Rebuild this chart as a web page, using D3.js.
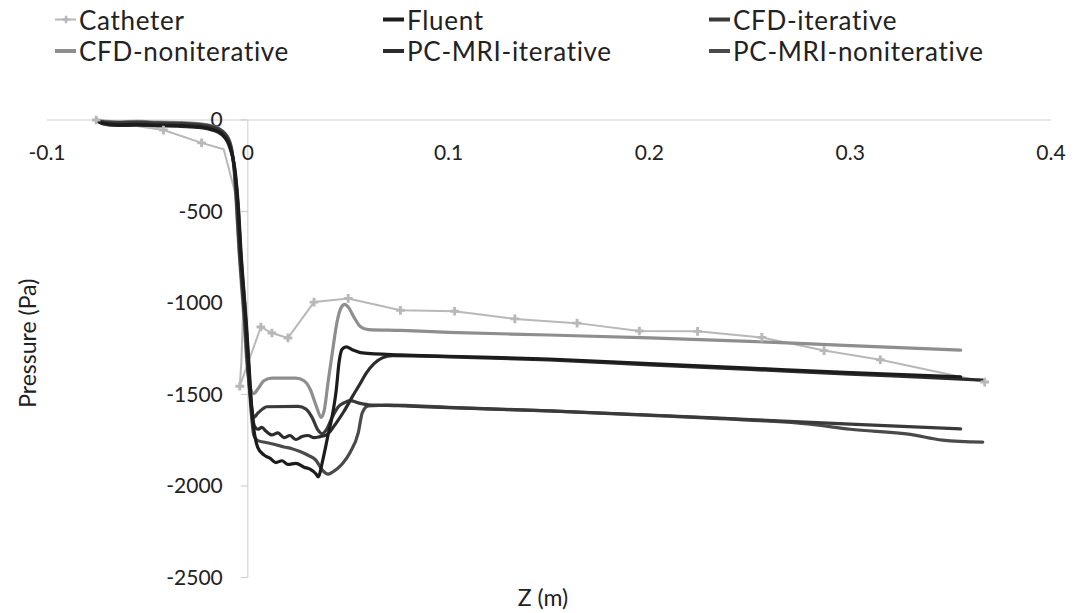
<!DOCTYPE html>
<html>
<head>
<meta charset="utf-8">
<script src="https://cdn.jsdelivr.net/npm/d3@7"></script>
<style>
  html, body { margin: 0; padding: 0; background: #ffffff; }
  svg { display: block; }
  text { font-family: Lato, "Open Sans", sans-serif; fill: #222; }
</style>
</head>
<body>
<svg id="chart" width="1081" height="613"></svg>
<script>
// ---------------- data ----------------
const seriesNames = ["Catheter", "Fluent", "CFD-iterative", "CFD-noniterative", "PC-MRI-iterative", "PC-MRI-noniterative"];
const seriesColors = ["#b8b8b8", "#1c1c1c", "#3a3a3a", "#8e8e8e", "#2c2c2c", "#4a4a4a"];

const xTicks = [-0.1, 0, 0.1, 0.2, 0.3, 0.4];
const xTickLabels = ["-0.1", "0", "0.1", "0.2", "0.3", "0.4"];
const yTicks = [0, -500, -1000, -1500, -2000, -2500];
const yTickLabels = ["0", "-500", "-1000", "-1500", "-2000", "-2500"];

// [Z (m), Pressure (Pa)]
const catheter = [
  [-0.0755, 0], [-0.042, -55], [-0.023, -125], [-0.012, -160], [-0.0058, -420],
  [-0.0022, -1000], [-0.0032, -1320], [-0.004, -1455], [0.0065, -1131],
  [0.012, -1164], [0.020, -1191], [0.033, -995], [0.050, -975], [0.076, -1040],
  [0.103, -1045], [0.133, -1087], [0.164, -1110], [0.195, -1153], [0.224, -1155],
  [0.256, -1188], [0.287, -1260], [0.315, -1310], [0.367, -1432]
];

const fluent = [
  [-0.0755, 0], [-0.072, -18], [-0.065, -26], [-0.055, -24], [-0.045, -28], [-0.035, -30],
  [-0.025, -36], [-0.018, -50], [-0.013, -75], [-0.009, -142], [-0.0063, -290],
  [-0.0048, -480], [-0.0036, -712], [-0.0021, -935], [-0.0008, -1125], [0.0004, -1335],
  [0.0018, -1570], [0.0032, -1705], [0.005, -1790], [0.008, -1830], [0.011, -1848],
  [0.014, -1872], [0.017, -1862], [0.020, -1882], [0.024, -1876], [0.028, -1897],
  [0.031, -1908], [0.034, -1935], [0.035, -1950], [0.0375, -1850], [0.040, -1720],
  [0.042, -1620], [0.044, -1480], [0.0455, -1320], [0.047, -1252], [0.049, -1240],
  [0.052, -1255], [0.057, -1273], [0.076, -1284], [0.100, -1291], [0.150, -1306],
  [0.200, -1331], [0.250, -1356], [0.300, -1381], [0.355, -1403]
];

const cfdIterative = [
  [-0.0755, 0], [-0.072, -10], [-0.065, -14], [-0.055, -12], [-0.045, -16], [-0.035, -18],
  [-0.025, -24], [-0.018, -36], [-0.013, -60], [-0.009, -122], [-0.0067, -272],
  [-0.0055, -470], [-0.0043, -700], [-0.0028, -920], [-0.0015, -1112], [-0.0003, -1320],
  [0.0013, -1515], [0.003, -1625], [0.005, -1602], [0.0075, -1578], [0.0095, -1567],
  [0.025, -1565], [0.029, -1580], [0.032, -1625], [0.035, -1695], [0.037, -1715],
  [0.039, -1695], [0.042, -1625], [0.045, -1568], [0.048, -1545], [0.051, -1533],
  [0.055, -1546], [0.060, -1556], [0.075, -1561], [0.100, -1572], [0.150, -1590],
  [0.200, -1612], [0.250, -1637], [0.300, -1662], [0.355, -1688]
];

const cfdNoniterative = [
  [-0.0755, 0], [-0.072, -6], [-0.065, -10], [-0.055, -8], [-0.045, -12], [-0.035, -14],
  [-0.025, -20], [-0.018, -32], [-0.013, -56], [-0.009, -116], [-0.0069, -266],
  [-0.0057, -464], [-0.0045, -694], [-0.0031, -912], [-0.0018, -1104], [-0.0006, -1310],
  [0.0012, -1460], [0.003, -1495], [0.005, -1470], [0.008, -1425], [0.012, -1410],
  [0.024, -1410], [0.028, -1425], [0.031, -1470], [0.034, -1560], [0.0365, -1625],
  [0.038, -1590], [0.040, -1430], [0.0425, -1240], [0.0445, -1100], [0.0465, -1025],
  [0.0483, -1008], [0.050, -1022], [0.053, -1080], [0.056, -1128], [0.060, -1145],
  [0.076, -1150], [0.100, -1160], [0.150, -1175], [0.200, -1191], [0.250, -1210],
  [0.300, -1233], [0.355, -1257]
];

const pcmriIterative = [
  [-0.0755, 0], [-0.072, -22], [-0.065, -30], [-0.055, -28], [-0.045, -32], [-0.035, -34],
  [-0.025, -40], [-0.018, -54], [-0.013, -80], [-0.009, -150], [-0.0061, -296],
  [-0.0046, -486], [-0.0034, -718], [-0.0019, -940], [-0.0006, -1130], [0.0006, -1340],
  [0.0019, -1560], [0.0033, -1672], [0.005, -1690], [0.007, -1680], [0.009, -1700],
  [0.012, -1721], [0.015, -1710], [0.018, -1736], [0.021, -1724], [0.024, -1746],
  [0.027, -1730], [0.030, -1724], [0.033, -1736], [0.036, -1730], [0.039, -1722],
  [0.041, -1702], [0.044, -1656], [0.048, -1590], [0.052, -1513], [0.056, -1440],
  [0.059, -1383], [0.063, -1330], [0.067, -1300], [0.072, -1288], [0.100, -1294],
  [0.150, -1311], [0.200, -1338], [0.250, -1363], [0.300, -1389], [0.340, -1408],
  [0.366, -1421]
];

const pcmriNoniterative = [
  [-0.0755, 0], [-0.072, -14], [-0.065, -20], [-0.055, -18], [-0.045, -22], [-0.035, -25],
  [-0.025, -30], [-0.018, -43], [-0.013, -68], [-0.009, -134], [-0.0065, -288],
  [-0.0051, -484], [-0.0039, -716], [-0.0024, -938], [-0.0011, -1128], [0.0001, -1338],
  [0.0016, -1585], [0.003, -1722], [0.005, -1752], [0.009, -1762], [0.013, -1772],
  [0.018, -1787], [0.022, -1796], [0.026, -1812], [0.030, -1832], [0.034, -1860],
  [0.037, -1912], [0.040, -1935], [0.042, -1925], [0.047, -1880], [0.051, -1815],
  [0.055, -1710], [0.057, -1600], [0.060, -1562], [0.070, -1558], [0.100, -1570],
  [0.150, -1590], [0.200, -1614], [0.250, -1640], [0.280, -1662], [0.300, -1690],
  [0.330, -1718], [0.346, -1749], [0.366, -1760]
];

const seriesData = [catheter, fluent, cfdIterative, cfdNoniterative, pcmriIterative, pcmriNoniterative];
// drawing order: light ones first, darkest on top
const drawOrder = [0, 3, 5, 2, 4, 1];

// ---------------- chart ----------------
const svg = d3.select("#chart");
const x = d3.scaleLinear().domain([-0.1, 0.4]).range([47, 1051]);
const y = d3.scaleLinear().domain([-2500, 0]).range([577.5, 120]);

// x axis line (through y = 0)
svg.append("line")
  .attr("x1", x(-0.1)).attr("x2", x(0.4))
  .attr("y1", y(0)).attr("y2", y(0))
  .attr("stroke", "#cfcfcf").attr("stroke-width", 1.2);

// y axis line (through x = 0)
svg.append("line")
  .attr("x1", x(0)).attr("x2", x(0))
  .attr("y1", y(0)).attr("y2", y(-2500))
  .attr("stroke", "#d4d4d4").attr("stroke-width", 1.2);

// y ticks and labels
yTicks.forEach((v, i) => {
  svg.append("line")
    .attr("x1", x(0) - 7).attr("x2", x(0))
    .attr("y1", y(v)).attr("y2", y(v))
    .attr("stroke", "#cfcfcf").attr("stroke-width", 1.2);
  svg.append("text")
    .attr("x", x(0) - 25).attr("y", y(v))
    .attr("dy", "0.35em")
    .attr("text-anchor", "end")
    .style("font-size", "21px")
    .text(yTickLabels[i]);
});

// x tick labels (below the axis line)
xTicks.forEach((v, i) => {
  svg.append("text")
    .attr("x", x(v)).attr("y", y(0) + 33)
    .attr("dy", "0.35em")
    .attr("text-anchor", "middle")
    .style("font-size", "21px")
    .text(xTickLabels[i]);
});

// axis titles
svg.append("text")
  .attr("transform", `translate(36, ${y(-1220)}) rotate(-90)`)
  .attr("text-anchor", "middle")
  .style("font-size", "23px")
  .text("Pressure (Pa)");
svg.append("text")
  .attr("x", 543).attr("y", 606)
  .attr("text-anchor", "middle")
  .style("font-size", "23px")
  .text("Z (m)");

// series lines
const lineLinear = d3.line().x(d => x(d[0])).y(d => y(d[1]));
const lineSmooth = d3.line().x(d => x(d[0])).y(d => y(d[1])).curve(d3.curveMonotoneX);
const lineCardinal = d3.line().x(d => x(d[0])).y(d => y(d[1])).curve(d3.curveCatmullRom.alpha(0.5));

drawOrder.forEach(i => {
  svg.append("path")
    .datum(seriesData[i])
    .attr("fill", "none")
    .attr("stroke", seriesColors[i])
    .attr("stroke-width", i === 0 ? 2 : 3.2)
    .attr("stroke-linejoin", "round")
    .attr("stroke-linecap", "round")
    .attr("d", i === 0 ? lineLinear : lineSmooth);
});

// catheter markers
const cross = d3.symbol().type(d3.symbolCross).size(42);
svg.append("g").selectAll("path")
  .data(catheter.filter((d, i) => [0, 1, 2, 7, 8, 9, 10, 11, 12, 13, 14, 15, 16, 17, 18, 19, 20, 21, 22].includes(i)))
  .join("path")
  .attr("transform", d => `translate(${x(d[0])},${y(d[1])})`)
  .attr("d", cross)
  .attr("fill", seriesColors[0]);

// legend
const legendCols = [55, 383, 709];
const legendBaselines = [29.5, 61];
seriesNames.forEach((name, i) => {
  const lx = legendCols[i % 3];
  const by = legendBaselines[Math.floor(i / 3)];
  const ly = by - 10;
  const g = svg.append("g");
  g.append("line")
    .attr("x1", lx).attr("x2", lx + 21)
    .attr("y1", ly).attr("y2", ly)
    .attr("stroke", seriesColors[i])
    .attr("stroke-width", i === 0 ? 2 : 4);
  if (i === 0) {
    g.append("path")
      .attr("transform", `translate(${lx + 11},${ly})`)
      .attr("d", d3.symbol().type(d3.symbolCross).size(30))
      .attr("fill", seriesColors[0]);
  }
  g.append("text")
    .attr("x", lx + 24).attr("y", by)
    .style("font-size", "26px")
    .style("letter-spacing", "0.7px")
    .text(name);
});
</script>
</body>
</html>
